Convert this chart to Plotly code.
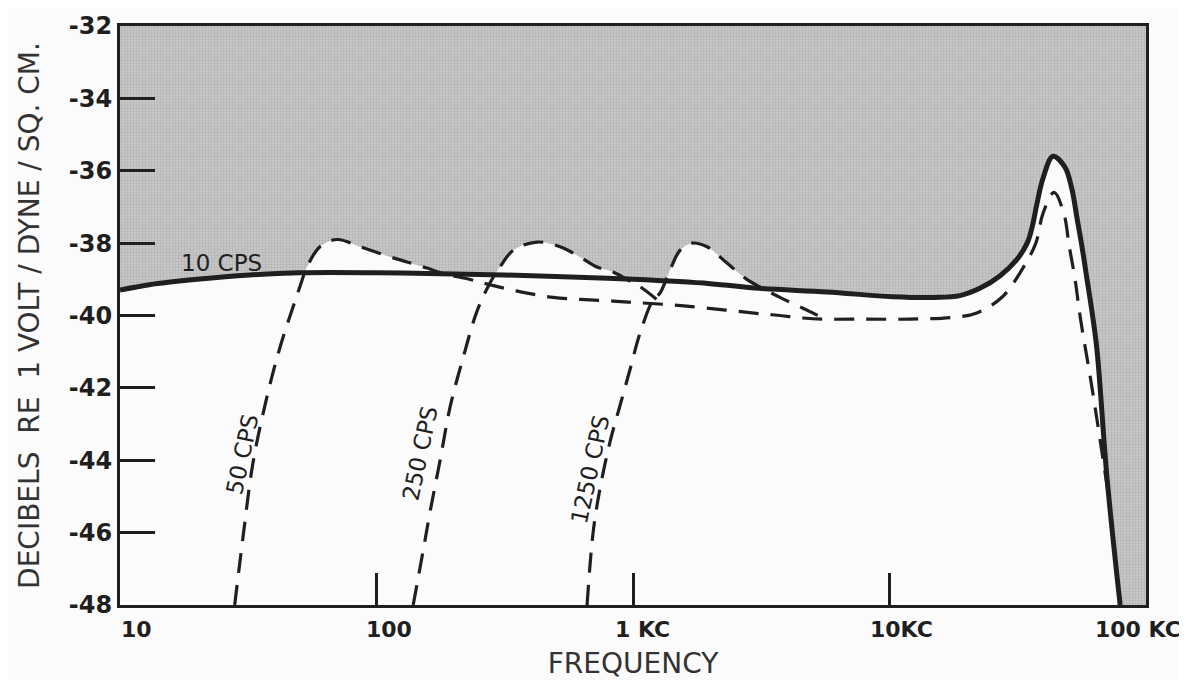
import math
import plotly.graph_objects as go

# ---------------- data ----------------
freq_10cps = [10, 13, 20, 32, 50, 100, 200, 500, 1000, 2000, 3100, 5700, 10300, 15000,
              18800, 22500, 27000, 31400, 34400, 36000, 37600, 39700, 43400, 48300,
              51400, 53800, 56300, 58900, 61600, 64400, 70500, 79300]
db_10cps = [-39.3, -39.15, -39.0, -38.88, -38.82, -38.82, -38.85, -38.92, -39.0, -39.12,
            -39.25, -39.35, -39.48, -39.5, -39.45, -39.25, -38.9, -38.45, -38.0, -37.55,
            -36.9, -36.2, -35.6, -35.9, -36.5, -37.3, -38.1, -39.0, -39.9, -40.95, -44.5, -48.0]

freq_50cps = [28, 30.2, 33, 37.4, 42.1, 50.3, 53.6, 60.2, 70.2, 86.2, 113, 131.6, 157,
              185, 230, 277, 340, 488, 836, 1064, 1500, 2300, 3130, 3740, 4600, 5500, 8000,
              12000, 17700, 21900, 27500, 32800, 37200, 39700, 43800, 47900, 50100, 52900,
              55400, 61600, 71500]
db_50cps = [-48.0, -46.1, -44.07, -42.25, -40.87, -39.2, -38.66, -38.1, -37.9, -38.1,
            -38.38, -38.52, -38.69, -38.85, -39.0, -39.15, -39.3, -39.5, -39.6, -39.65, -39.72,
            -39.85, -39.95, -40.0, -40.07, -40.1, -40.1, -40.1, -40.05, -39.93, -39.49, -38.74,
            -38.0, -37.17, -36.6, -37.2, -38.05, -39.0, -40.04, -42.0, -45.0]

freq_250cps = [139, 152, 162, 177, 194, 217, 246, 277, 303, 341, 422, 519, 621, 724, 836,
               1000, 1064, 1300]
db_250cps = [-48.0, -46.5, -45.4, -44.0, -42.5, -41.2, -39.9, -39.1, -38.66, -38.2, -37.97,
             -38.1, -38.38, -38.66, -38.8, -39.1, -39.2, -39.68]

freq_1250cps = [662, 699, 743, 813, 889, 973, 1064, 1197, 1274, 1393, 1524, 1698, 1943, 2324,
                2779, 3300, 3741, 4600, 5510]
db_1250cps = [-48.0, -46.0, -44.8, -43.5, -42.5, -41.5, -40.5, -39.57, -39.38, -38.75, -38.2,
              -38.0, -38.1, -38.55, -39.0, -39.3, -39.5, -39.8, -40.07]

x_tick_vals = [10, 100, 1000, 10000, 100000]
x_tick_text = ["10", "100", "1 KC", "10KC", "100 KC"]
y_tick_vals = [-32, -34, -36, -38, -40, -42, -44, -46, -48]
y_tick_text = ["-32", "-34", "-36", "-38", "-40", "-42", "-44", "-46", "-48"]

curve_labels = ["10 CPS", "50 CPS", "250 CPS", "1250 CPS"]
x_range = [10, 100000]
y_range = [-48, -32]

# ---------------- style ----------------
INK = "#1f1f1f"
BG = "#fbfbfb"
FONT = "DejaVu Sans"

fig = go.Figure()

# shaded region above the 10 CPS curve
fig.add_trace(go.Scatter(x=[x_range[0], x_range[1], x_range[1]],
                         y=[y_range[1], y_range[1], y_range[0]],
                         mode="lines", line=dict(width=0), hoverinfo="skip", showlegend=False))
fig.add_trace(go.Scatter(x=freq_10cps, y=db_10cps, mode="lines",
                         line=dict(width=0, shape="spline"), fill="tonexty",
                         fillcolor="#c6c6c6",
                         fillpattern=dict(shape=".", bgcolor="#cbcbcb", fgcolor="#9a9a9a",
                                          size=3, solidity=0.45),
                         hoverinfo="skip", showlegend=False))

dashed = [(freq_50cps, db_50cps), (freq_250cps, db_250cps), (freq_1250cps, db_1250cps)]

# clear the shading under the dashed peaks
for f, d in dashed:
    fig.add_trace(go.Scatter(x=[f[0], f[-1]], y=[y_range[0], y_range[0]], mode="lines",
                             line=dict(width=0), hoverinfo="skip", showlegend=False))
    fig.add_trace(go.Scatter(x=f, y=d, mode="lines", line=dict(width=0, shape="spline"),
                             fill="tonexty", fillcolor=BG, hoverinfo="skip", showlegend=False))

# dashed curves
for f, d in dashed:
    fig.add_trace(go.Scatter(x=f, y=d, mode="lines",
                             line=dict(color=INK, width=3.2, dash="20px,12px", shape="spline"),
                             showlegend=False))

# solid 10 CPS curve
fig.add_trace(go.Scatter(x=freq_10cps, y=db_10cps, mode="lines",
                         line=dict(color=INK, width=5, shape="spline"), showlegend=False))

# curve labels
label_pos = [(24.8, -38.55, 0), (29.9, -43.85, -78), (148, -43.8, -78), (679, -44.26, -78)]
for text, (lx, ly, ang) in zip(curve_labels, label_pos):
    fig.add_annotation(x=math.log10(lx), y=ly, text=text, showarrow=False, textangle=ang,
                       font=dict(family=FONT, size=23, color=INK), xref="x", yref="y")

# x tick labels
x_shift = [16, 12, 9, 12, -8]
for v, t, s in zip(x_tick_vals, x_tick_text, x_shift):
    fig.add_annotation(x=math.log10(v), y=0, xref="x", yref="paper", yanchor="top",
                       text=t, showarrow=False, xshift=s, yshift=-10,
                       font=dict(family=FONT, size=22, color=INK, weight="bold"))

fig.update_xaxes(type="log", range=[math.log10(x_range[0]), math.log10(x_range[1])],
                 tickvals=x_tick_vals, showticklabels=False, ticks="inside", ticklen=32,
                 tickwidth=3, tickcolor=INK, showgrid=False, zeroline=False,
                 showline=True, linewidth=3, linecolor=INK, mirror=True, automargin=False,
                 title=dict(text="FREQUENCY", standoff=48,
                            font=dict(family=FONT, size=28, color="#333333")))
fig.update_yaxes(range=y_range, tickvals=y_tick_vals, ticktext=y_tick_text,
                 ticks="inside", ticklen=35, tickwidth=3, tickcolor=INK,
                 showgrid=False, zeroline=False, showline=True, linewidth=3,
                 linecolor=INK, mirror=True, automargin=False,
                 tickfont=dict(family=FONT, size=24, color=INK, weight="bold"),
                 title=dict(text="DECIBELS  RE  1 VOLT / DYNE / SQ. CM.", standoff=22,
                            font=dict(family=FONT, size=28, color="#333333")))

fig.update_layout(width=1179, height=672, paper_bgcolor=BG, plot_bgcolor=BG,
                  margin=dict(l=112, r=41, t=18, b=75), showlegend=False)

fig.write_html("out.html")
